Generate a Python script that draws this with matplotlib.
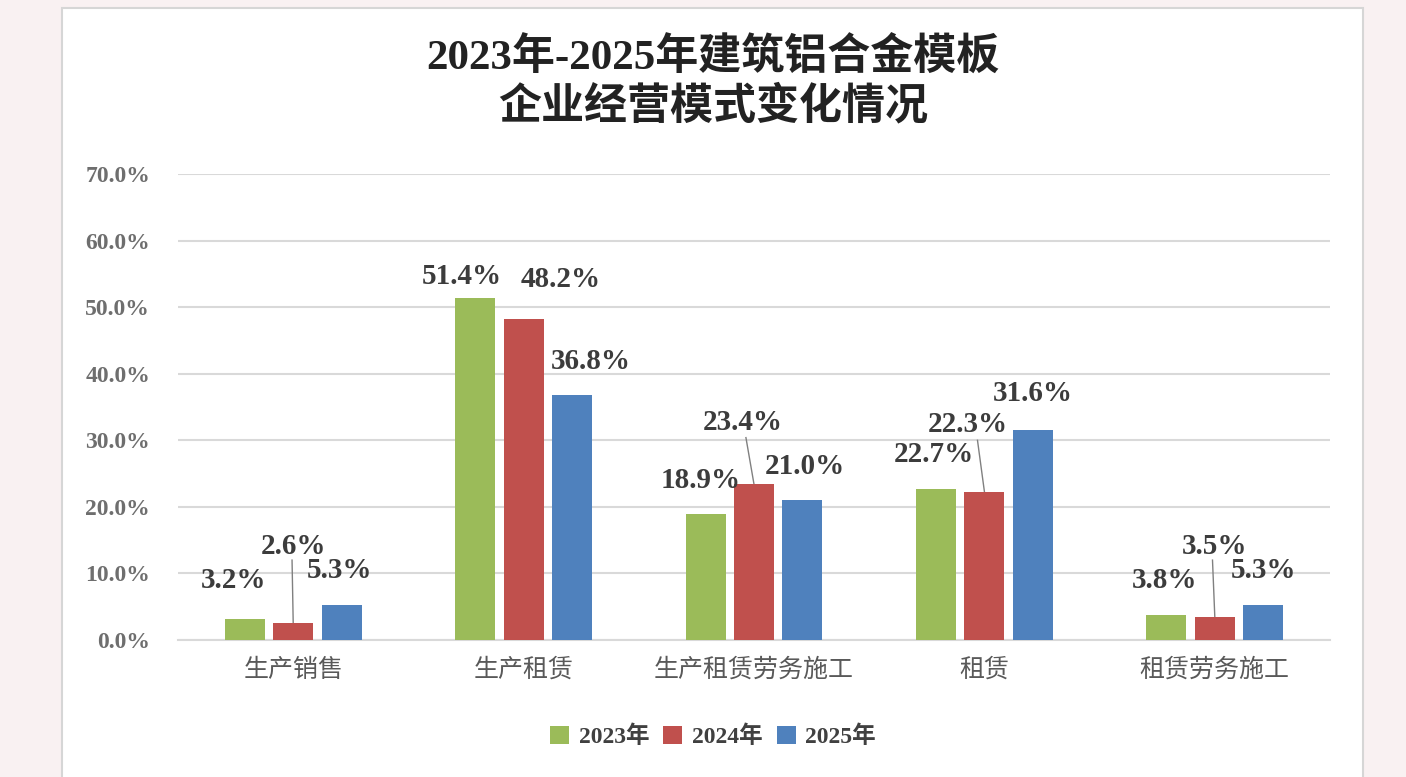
import numpy as np
import matplotlib.pyplot as plt
from matplotlib.patches import Rectangle, Patch

# Data
categories = ['生产销售', '生产租赁', '生产租赁劳务施工', '租赁', '租赁劳务施工']
years = ['2023年', '2024年', '2025年']
v2023 = [3.2, 51.4, 18.9, 22.7, 3.8]
v2024 = [2.6, 48.2, 23.4, 22.3, 3.5]
v2025 = [5.3, 36.8, 21.0, 31.6, 5.3]
yticks = [0, 10, 20, 30, 40, 50, 60, 70]

colors = ['#9bbb59', '#c0504d', '#4f81bd']
series = [v2023, v2024, v2025]

# label placement per series: (dx in category units, label centre in %), mimics the original
label_pos = [
    [(-0.05, 9.0), (-0.06, 54.6), (-0.02, 24.0), (-0.01, 27.8), (-0.01, 9.0)],
    [(0.0, 14.0), (0.16, 54.1), (-0.05, 32.7), (-0.07, 32.4), (0.0, 14.1)],
    [(-0.01, 10.5), (0.08, 41.9), (0.01, 26.1), (0.0, 37.0), (0.0, 10.4)],
]
# leader lines for the 2024 labels that sit away from their bars
leaders = {0: (12.0, -0.005), 2: (30.4, -0.035), 3: (30.0, -0.03), 4: (12.0, -0.01)}

serif = ['Liberation Serif', 'Noto Sans CJK SC']
cjk = ['Noto Sans CJK SC', 'DejaVu Sans']

fig = plt.figure(figsize=(14.06, 7.77), dpi=100)
fig.patch.set_facecolor('#f9f1f2')
fig.patches.append(Rectangle((62 / 1406, -0.05), 1301 / 1406, 1.05 - 8 / 777,
                             transform=fig.transFigure, facecolor='white',
                             edgecolor='#d6d6d6', linewidth=1.5, zorder=-5))

ax = fig.add_axes([178 / 1406, 137 / 777, 1152 / 1406, 466 / 777])
ax.set_zorder(2)
ax.set_facecolor('none')

x = np.arange(len(categories))
offsets = [-0.21, 0.0, 0.21]
width = 0.174
for s, vals in enumerate(series):
    ax.bar(x + offsets[s], vals, width, color=colors[s], zorder=3)
    for i, v in enumerate(vals):
        dx, ly = label_pos[s][i]
        ax.text(x[i] + offsets[s] + dx, ly, f'{v:.1f}%', ha='center', va='center',
                fontsize=21, fontweight='bold', color='#3c3c3c', family=serif, zorder=4)

for i, (top, ldx) in leaders.items():
    bx = x[i] + offsets[1]
    ax.plot([bx + ldx, bx], [top, v2024[i]], color='#808080', linewidth=1, zorder=2)

ax.set_xlim(-0.5, 4.5)
ax.set_ylim(0, 70)
ax.set_yticks(yticks)
ax.set_yticklabels([f'{t:.1f}%' for t in yticks], family=serif, fontsize=17,
                   fontweight='bold', color='#6e6e6e')
ax.set_xticks(x)
ax.set_xticklabels(categories, family=cjk, fontsize=18, color='#595959')
ax.tick_params(length=0)
ax.tick_params(axis='y', pad=20)
ax.tick_params(axis='x', pad=12)
ax.grid(axis='y', color='#d9d9d9', linewidth=1.5, zorder=0)
for sp in ['top', 'right', 'left']:
    ax.spines[sp].set_visible(False)
ax.spines['bottom'].set_color('#d9d9d9')
ax.spines['bottom'].set_linewidth(1.5)

fig.text(713 / 1406, 1 - 58 / 777, '2023年-2025年建筑铝合金模板', ha='center', va='center',
         fontsize=31, fontweight='bold', color='#222222', family=serif)
fig.text(713 / 1406, 1 - 105 / 777, '企业经营模式变化情况', ha='center', va='center',
         fontsize=31, fontweight='bold', color='#222222', family=cjk)

handles = [Patch(facecolor=c) for c in colors]
leg = fig.legend(handles, years, loc='center', bbox_to_anchor=(713 / 1406, 1 - 737 / 777),
                 ncol=3, frameon=False, handlelength=0.8, handleheight=0.8,
                 handletextpad=0.4, columnspacing=0.6,
                 prop={'family': serif, 'size': 17, 'weight': 'bold'})
for t in leg.get_texts():
    t.set_color('#404040')

fig.savefig('out.png', dpi=100, facecolor=fig.get_facecolor())
